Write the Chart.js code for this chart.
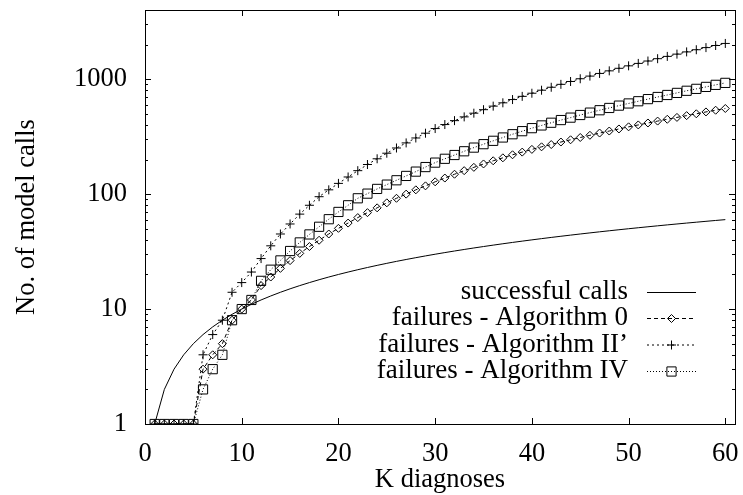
<!DOCTYPE html>
<html>
<head>
<meta charset="utf-8">
<script src="https://cdn.jsdelivr.net/npm/chart.js@4.4.0/dist/chart.umd.min.js"></script>
<style>
  html, body { margin: 0; padding: 0; background: #fff; }
</style>
</head>
<body>
<canvas id="chart" width="743" height="495"></canvas>
<script>
// K values on the x axis
const kDiagnoses = [
  1, 2, 3, 4, 5, 6, 7, 8, 9, 10, 11, 12, 13, 14, 15, 16, 17, 18, 19, 20,
  21, 22, 23, 24, 25, 26, 27, 28, 29, 30, 31, 32, 33, 34, 35, 36, 37, 38, 39, 40,
  41, 42, 43, 44, 45, 46, 47, 48, 49, 50, 51, 52, 53, 54, 55, 56, 57, 58, 59, 60
];

const successfulCalls = [
  1, 2, 3, 4, 5, 6, 7, 8, 9, 10, 11, 12, 13, 14, 15, 16, 17, 18, 19, 20,
  21, 22, 23, 24, 25, 26, 27, 28, 29, 30, 31, 32, 33, 34, 35, 36, 37, 38, 39, 40,
  41, 42, 43, 44, 45, 46, 47, 48, 49, 50, 51, 52, 53, 54, 55, 56, 57, 58, 59, 60
];

const failuresAlg0 = [
  1, 1, 1, 1, 1, 3, 4, 5, 8, 10, 12, 16, 19, 22.6, 26.4, 30.5, 35, 39.7, 45, 50.4,
  56, 62.5, 69, 76, 84, 92, 100, 109, 118, 128, 138, 149, 160, 171, 183, 195, 207, 220, 232, 245,
  258, 270, 284, 297, 311, 325, 340, 354, 369, 385, 400, 416, 432, 448, 465, 482, 500, 519, 537, 556
];

const failuresAlg2p = [
  1, 1, 1, 1, 1, 4, 6, 8, 14, 17, 21, 27.5, 35.5, 45, 55, 67, 80, 95, 109, 124,
  141, 160, 181, 203, 227, 252, 279, 308, 339, 372, 403, 436, 470, 506, 543, 583, 623, 665, 709, 755,
  802, 851, 902, 955, 1009, 1064, 1122, 1182, 1244, 1307, 1372, 1439, 1508, 1579, 1652, 1728, 1804, 1883, 1964, 2047
];

const failuresAlg4 = [
  1, 1, 1, 1, 1, 2, 3, 4, 8, 10, 12, 17.6, 22, 26.5, 32, 38, 44.6, 52, 60.5, 70,
  80, 92, 101, 111, 121, 132, 144, 157, 172, 188, 203, 219, 236, 254, 272, 291, 311, 332, 353, 375,
  396, 418, 441, 463, 488, 512, 537, 562, 589, 615, 643, 671, 700, 729, 760, 793, 824, 857, 893, 929
];

const seriesLabels = [
  'successful calls',
  'failures - Algorithm 0',
  'failures - Algorithm II\u2019',
  'failures - Algorithm IV'
];

const xTicks = [0, 10, 20, 30, 40, 50, 60];
const yTicks = [1, 10, 100, 1000];

const FONT = '"Liberation Serif", "Times New Roman", serif';
const FONT_SIZE = 26.5;

const toPoints = (ys) => ys.map((y, i) => ({ x: kDiagnoses[i], y }));

// gnuplot-like frame with inward ticks on all four sides
const framePlugin = {
  id: 'frame',
  afterDatasetsDraw(chart) {
    const { ctx, chartArea: a, scales: { x, y } } = chart;
    ctx.save();
    ctx.strokeStyle = '#000';
    ctx.lineWidth = 1;
    ctx.beginPath();
    xTicks.forEach(v => {
      const px = Math.round(x.getPixelForValue(v)) + 0.5;
      ctx.moveTo(px, a.bottom); ctx.lineTo(px, a.bottom - 6);
      ctx.moveTo(px, a.top); ctx.lineTo(px, a.top + 6);
    });
    for (let d = 1; d <= 1000; d *= 10) {
      for (let m = 1; m <= 9; m++) {
        const v = m * d;
        if (v > y.max) break;
        const len = m === 1 ? 6 : 3;
        const py = Math.round(y.getPixelForValue(v)) + 0.5;
        ctx.moveTo(a.left, py); ctx.lineTo(a.left + len, py);
        ctx.moveTo(a.right, py); ctx.lineTo(a.right - len, py);
      }
    }
    ctx.stroke();
    ctx.strokeRect(Math.round(a.left) + 0.5, Math.round(a.top) + 0.5,
      Math.round(a.right - a.left), Math.round(a.bottom - a.top));
    ctx.restore();
  }
};

// gnuplot-style key: right aligned text, sample on its right
const keyPlugin = {
  id: 'key',
  afterDraw(chart) {
    const { ctx } = chart;
    const textRight = 628, sampleL = 647, sampleR = 696;
    const rowY = [292, 318, 344.5, 371];
    ctx.save();
    ctx.font = `27px ${FONT}`;
    ctx.fillStyle = '#000';
    ctx.textAlign = 'right';
    ctx.textBaseline = 'middle';
    chart.data.datasets.forEach((ds, i) => {
      const yy = rowY[i];
      ctx.fillText(ds.label, textRight, yy);
      ctx.save();
      ctx.strokeStyle = '#000';
      ctx.lineWidth = 1;
      ctx.setLineDash(ds.borderDash || []);
      ctx.beginPath();
      ctx.moveTo(sampleL, yy + 0.5);
      ctx.lineTo(sampleR, yy + 0.5);
      ctx.stroke();
      ctx.restore();
      if (ds.pointRadius > 0) {
        ctx.save();
        ctx.strokeStyle = '#000';
        ctx.fillStyle = 'rgba(0,0,0,0)';
        Chart.helpers.drawPoint(ctx, {
          pointStyle: ds.pointStyle, radius: ds.pointRadius, borderWidth: 1, rotation: 0
        }, (sampleL + sampleR) / 2, yy + 0.5);
        ctx.restore();
      }
    });
    ctx.restore();
  }
};

const lineSet = (label, data, dash, style, radius) => ({
  label,
  data: toPoints(data),
  borderColor: '#000',
  borderWidth: 1,
  borderDash: dash,
  pointStyle: style,
  pointRadius: radius,
  pointBorderColor: '#000',
  pointBackgroundColor: 'rgba(0,0,0,0)',
  pointBorderWidth: 1,
  fill: false,
  tension: 0
});

new Chart(document.getElementById('chart'), {
  type: 'line',
  data: {
    datasets: [
      lineSet(seriesLabels[0], successfulCalls, [], false, 0),
      lineSet(seriesLabels[1], failuresAlg0, [4, 3], 'rectRot', 4),
      lineSet(seriesLabels[2], failuresAlg2p, [2, 3], 'cross', 4.5),
      lineSet(seriesLabels[3], failuresAlg4, [1, 2], 'rect', 6.5)
    ]
  },
  options: {
    responsive: false,
    animation: false,
    layout: { padding: { top: 10, right: 8, left: 0, bottom: 0 } },
    plugins: { legend: { display: false }, tooltip: { enabled: false } },
    scales: {
      x: {
        type: 'linear',
        min: 0,
        max: 61,
        grid: { display: false, drawTicks: false },
        border: { display: false },
        afterBuildTicks: (s) => { s.ticks = xTicks.map(v => ({ value: v })); },
        afterFit: (s) => { s.height = 71; s.paddingLeft = 0; s.paddingRight = 0; },
        ticks: {
          padding: 14, color: '#000', maxRotation: 0, autoSkip: false,
          font: { family: FONT, size: FONT_SIZE }
        },
        title: {
          display: true, text: 'K diagnoses', color: '#000',
          font: { family: FONT, size: FONT_SIZE }, padding: { top: 0, bottom: -1 }
        }
      },
      y: {
        type: 'logarithmic',
        min: 1,
        max: 4000,
        grid: { display: false, drawTicks: false },
        border: { display: false },
        afterBuildTicks: (s) => { s.ticks = yTicks.map(v => ({ value: v })); },
        afterFit: (s) => { s.width = 145; s.paddingTop = 0; s.paddingBottom = 0; },
        ticks: {
          padding: 18, color: '#000', autoSkip: false,
          font: { family: FONT, size: FONT_SIZE },
          callback: (v) => String(v)
        },
        title: {
          display: true, text: 'No. of model calls', color: '#000',
          font: { family: FONT, size: FONT_SIZE }, padding: { top: 11, bottom: 0 }
        }
      }
    }
  },
  plugins: [framePlugin, keyPlugin]
});
</script>
</body>
</html>
